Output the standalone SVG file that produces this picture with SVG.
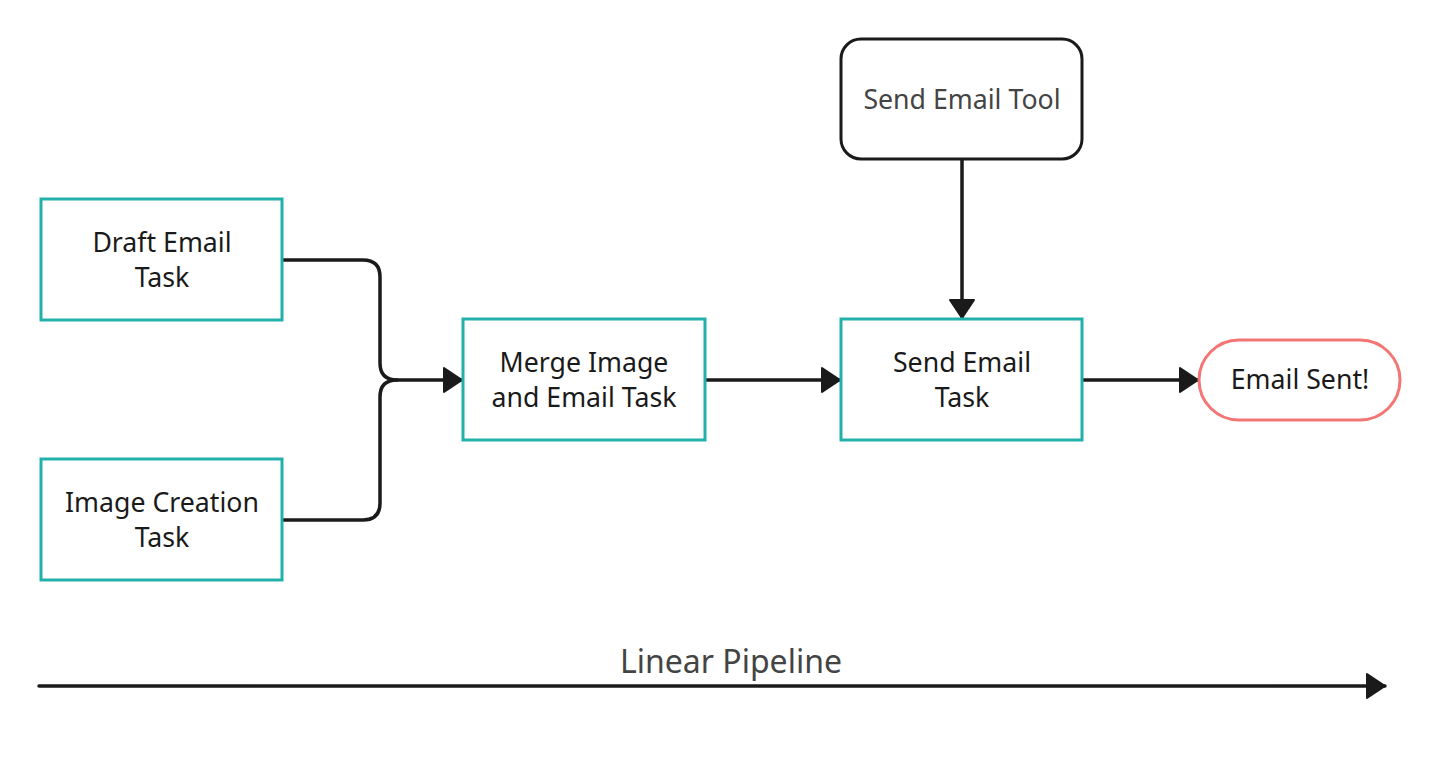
<svg xmlns="http://www.w3.org/2000/svg" width="1440" height="780" viewBox="0 0 1440 780">
<defs>
<style>
.task{fill:#fff;stroke:#22b0ab;stroke-width:3}
.tool{fill:#fff;stroke:#1a1a1a;stroke-width:3}
.end{fill:#fff;stroke:#f47674;stroke-width:3}
.lbl{font-family:"Noto Sans","Open Sans",sans-serif;font-size:26.7px;fill:#1a1a1a;text-anchor:middle}
.gray{fill:#444}
.edge{fill:none;stroke:#1a1a1a;stroke-width:3.5;stroke-linejoin:round;stroke-linecap:round}
</style>
<marker id="ah" markerUnits="userSpaceOnUse" markerWidth="24" markerHeight="30" refX="19" refY="13" orient="auto">
<path d="M1,1 L19,13 L1,25 Z" fill="#1a1a1a" stroke="#1a1a1a" stroke-width="2" stroke-linejoin="round"/>
</marker>
</defs>
<rect width="1440" height="780" fill="#fff"/>
<g id="connectors">
<path class="edge" d="M282,260 H363 Q380,260 380,277 V363 Q380,380 397,380 H462" marker-end="url(#ah)"/>
<path class="edge" d="M282,520 H363 Q380,520 380,503 V397 Q380,380 397,380"/>
<path class="edge" d="M705,380 H840" marker-end="url(#ah)"/>
<path class="edge" d="M962,160 V318" marker-end="url(#ah)"/>
<path class="edge" d="M1082,380 H1198" marker-end="url(#ah)"/>
<path class="edge" d="M39,686 H1385" marker-end="url(#ah)"/>
</g>
<g id="draft">
<rect class="task" x="41" y="199" width="241" height="121"/>
<text class="lbl" x="162" y="252">Draft Email</text>
<text class="lbl" x="162" y="287">Task</text>
</g>
<g id="image">
<rect class="task" x="41" y="459" width="241" height="121"/>
<text class="lbl" x="162" y="512">Image Creation</text>
<text class="lbl" x="162" y="547">Task</text>
</g>
<g id="merge">
<rect class="task" x="463" y="319" width="242" height="121"/>
<text class="lbl" x="584" y="372">Merge Image</text>
<text class="lbl" x="584" y="407">and Email Task</text>
</g>
<g id="sendtool">
<rect class="tool" x="841" y="39" width="241" height="120" rx="20"/>
<text class="lbl gray" x="962" y="109">Send Email Tool</text>
</g>
<g id="sendtask">
<rect class="task" x="841" y="319" width="241" height="121"/>
<text class="lbl" x="962" y="372">Send Email</text>
<text class="lbl" x="962" y="407">Task</text>
</g>
<g id="sent">
<rect class="end" x="1199" y="340" width="201" height="80" rx="40"/>
<text class="lbl" x="1300" y="389">Email Sent!</text>
</g>
<g id="pipeline">
<text class="lbl gray" x="731" y="673" style="font-size:32px">Linear Pipeline</text>
</g>
</svg>
